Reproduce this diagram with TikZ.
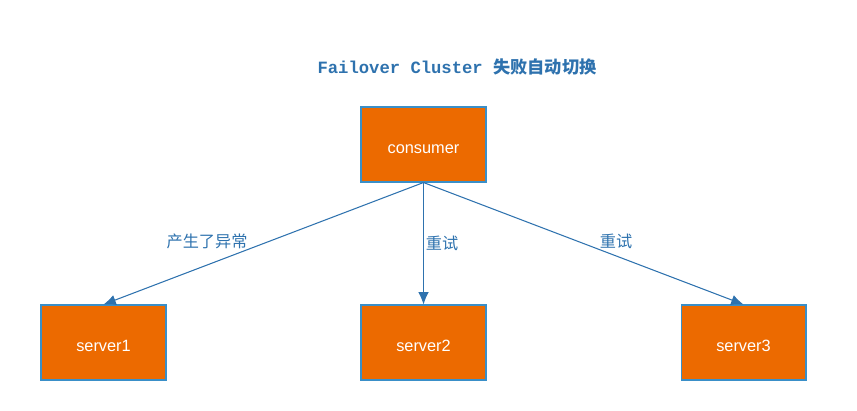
\documentclass[tikz,border=0pt]{standalone}
\usepackage{fontspec}
\setmainfont{Liberation Sans}
\newfontfamily\cjk{Noto Sans CJK SC}
\newfontfamily\titlefont{Liberation Mono}
\usetikzlibrary{calc,arrows.meta}

\definecolor{boxorange}{HTML}{EC6A00}
\definecolor{boxline}{HTML}{3A8FC8}
\definecolor{arrowblue}{HTML}{2E72AE}

\tikzset{
    srvbox/.style={draw=boxline, fill=boxorange, line width=0.6pt,
        minimum width=2.5cm, minimum height=1.5cm, inner sep=0pt,
        text=white, font=\fontsize{9.3}{11}\selectfont,
        text depth=0pt, text height=10pt},
    tolink/.style={draw=arrowblue, line width=0.6pt, -{Latex[length=7pt,width=6pt]}},
    linklabel/.style={text=arrowblue, font=\cjk\fontsize{9.2}{11}\selectfont}
}

\begin{document}
\begin{tikzpicture}[x=0.02cm, y=-0.02cm]
        \useasboundingbox (0,0) rectangle (857,410);
        \node[text=arrowblue, font=\fontsize{9.8}{12}\selectfont] (title) at (457,67)
            {\titlefont\bfseries Failover Cluster \cjk 失败自动切换};
        \node[srvbox] (consumer) at (423.5,144.5) {consumer};
        \node[srvbox] (server1) at (103.5,342.5) {server1};
        \node[srvbox] (server2) at (423.5,342.5) {server2};
        \node[srvbox] (server3) at (743.5,342.5) {server3};
        \draw[tolink] (consumer.south) -- (server1.north);
        \draw[tolink] (consumer.south) -- (server2.north);
        \draw[tolink] (consumer.south) -- (server3.north);
        \node[linklabel] (lab1) at (207,241) {产生了异常};
        \node[linklabel] (lab2) at (442,243) {重试};
        \node[linklabel] (lab3) at (616,241) {重试};
    \end{tikzpicture}
\end{document}
